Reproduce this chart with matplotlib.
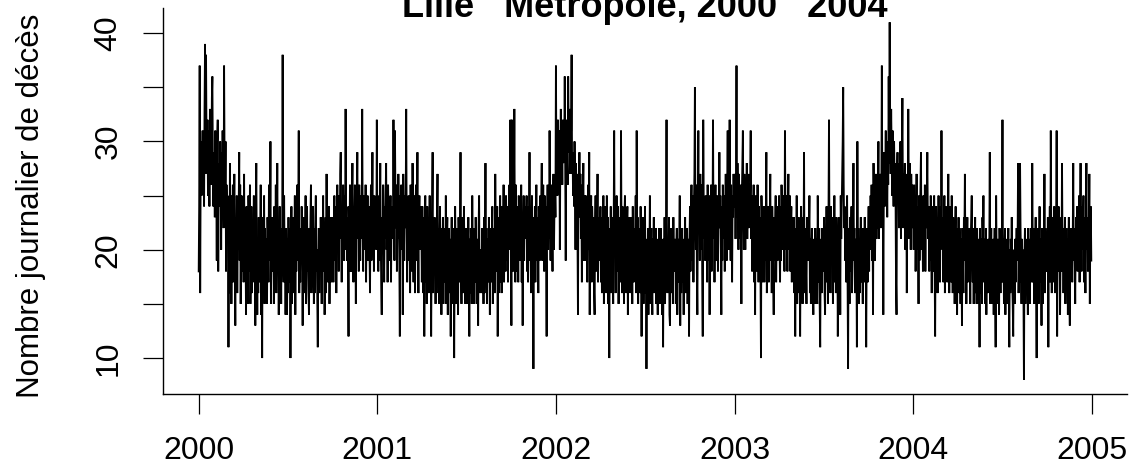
import numpy as np
import pandas as pd
import matplotlib
matplotlib.use("Agg")
import matplotlib.pyplot as plt

# Daily number of deaths, Lille Métropole
deaths_2000 = [
    18,24,37,16,27,30,25,28,31,26,29,24,33,39,27,38,30,28,32,25,29,31,24,33,27,30,26,34,36,28,24,
    26,29,23,31,25,27,19,30,32,18,26,28,24,30,27,20,29,25,31,26,22,37,28,24,30,18,26,23,25,
    24,11,22,16,28,21,25,15,23,20,26,17,22,27,19,13,23,21,25,16,22,20,24,29,19,26,15,21,25,18,22,
    21,17,27,18,23,20,14,24,19,22,15,25,21,18,26,15,20,24,16,22,17,21,25,18,20,13,23,28,19,14,
    20,16,23,17,22,19,26,14,21,10,23,18,20,25,15,22,19,21,16,15,23,20,17,26,19,22,30,15,21,18,23,
    19,22,15,24,20,18,26,16,21,28,19,22,14,20,24,18,21,15,22,19,38,20,17,25,19,21,14,22,18,14,
    21,16,23,17,20,22,10,19,24,15,21,16,23,20,19,25,14,22,18,21,26,19,23,31,16,20,17,22,19,24,20,
    13,20,23,16,22,19,25,15,21,24,18,20,16,14,22,19,23,26,16,21,17,24,20,15,22,16,23,25,18,20,15,
    11,19,22,16,21,18,23,20,15,22,19,25,18,21,14,20,23,16,27,19,22,17,20,24,15,21,19,23,17,20,
    20,23,17,22,25,19,21,24,16,22,26,20,23,18,25,21,27,29,22,17,24,20,26,23,19,25,20,33,22,24,19,
    23,19,12,24,21,26,18,23,18,25,28,22,17,24,21,26,20,15,23,25,29,21,24,18,26,22,19,25,23,21,
    33,22,18,25,21,24,20,26,17,23,21,25,19,22,24,20,16,23,26,19,24,29,20,23,18,25,22,21,24,20,32,
]
deaths_2001 = [
    22,25,18,24,19,23,28,21,17,14,23,20,26,22,17,24,21,25,28,20,23,17,26,22,24,19,21,25,17,23,22,
    24,21,32,23,19,31,25,22,26,18,24,21,27,23,19,12,25,22,26,20,24,14,27,23,19,25,22,24,
    33,22,17,24,21,25,19,23,16,26,22,24,18,28,21,17,25,22,16,23,26,19,24,29,21,16,23,25,20,22,24,
    22,17,24,20,16,23,12,21,25,17,22,15,24,20,23,16,21,25,19,22,12,20,24,29,16,22,19,23,20,15,
    21,16,23,27,19,22,15,20,24,18,21,14,22,19,23,15,20,18,22,17,25,15,21,23,14,20,22,16,21,19,12,
    20,23,16,21,15,22,10,19,24,20,15,22,19,21,14,23,20,17,22,29,19,15,23,20,21,16,24,19,22,15,
    21,17,22,15,20,23,19,12,21,16,22,20,15,25,19,21,15,22,20,17,23,19,15,21,20,13,22,25,16,20,19,
    20,16,22,19,21,15,23,16,20,28,19,22,15,21,20,17,23,19,14,22,20,17,21,24,15,20,22,19,16,27,21,
    22,18,24,12,21,16,23,20,25,17,22,16,24,21,19,26,17,23,21,18,25,22,19,24,17,23,20,26,20,32,
    23,13,32,21,25,18,24,33,22,17,26,21,24,18,23,17,25,22,19,24,21,26,17,23,13,22,25,19,24,21,23,
    22,25,18,23,17,24,21,29,19,23,16,22,25,18,21,9,23,19,24,17,22,26,19,23,21,16,24,22,19,25,
    21,24,28,19,23,26,22,18,25,21,24,19,12,23,26,20,25,21,31,24,19,26,23,22,18,25,27,20,24,26,23,
]
deaths_2002 = [
    37,27,30,25,32,28,26,31,20,29,33,27,30,26,32,28,31,29,36,27,19,30,32,28,26,36,31,29,33,27,30,
    31,38,27,29,25,28,24,30,26,20,28,25,27,22,14,26,24,29,23,27,21,25,17,26,24,28,19,25,
    23,19,25,21,24,17,22,26,20,29,14,23,21,25,17,24,22,19,23,16,14,22,25,18,24,21,27,17,23,22,19,
    21,24,17,22,16,23,20,25,15,22,19,24,21,16,25,20,23,15,21,10,22,18,24,16,21,23,19,15,22,31,
    20,23,16,22,25,18,21,24,15,22,19,23,17,31,21,16,24,20,22,15,23,25,18,21,16,22,24,14,20,23,17,
    21,16,23,19,22,15,24,20,17,22,18,21,25,16,31,20,23,15,21,18,22,16,24,20,12,21,18,23,15,20,
    19,24,16,21,9,20,17,22,14,21,19,25,15,20,22,17,14,21,19,23,16,20,17,22,15,19,21,14,20,17,22,
    20,15,22,18,21,14,19,11,21,17,23,15,20,22,32,19,16,21,17,23,14,13,20,22,16,19,21,15,23,18,20,
    18,21,15,20,22,14,19,21,17,20,25,13,21,16,19,22,17,20,14,21,19,23,16,20,17,22,15,19,21,12,
    21,24,18,23,26,19,22,25,17,24,27,35,23,20,26,18,14,24,31,22,25,19,27,23,20,26,18,12,32,24,21,
    23,19,25,21,24,17,26,22,19,25,14,23,20,26,18,24,22,32,21,25,17,23,26,19,24,21,25,18,23,22,
    29,22,25,20,14,24,19,26,23,21,25,18,24,27,22,19,26,31,23,20,25,32,24,19,26,22,17,25,23,27,24,
]
deaths_2003 = [
    24,27,21,26,37,23,28,25,20,27,24,21,26,23,15,25,28,31,24,20,27,25,20,26,24,28,21,25,27,22,26,
    23,26,31,21,25,18,24,21,26,17,23,14,25,20,24,18,26,22,17,24,20,23,18,10,25,22,17,24,
    21,24,17,22,19,23,29,16,22,20,24,17,21,23,27,19,22,16,24,21,18,14,23,19,22,25,17,21,23,19,24,
    22,25,20,17,24,19,26,23,20,25,22,24,18,31,23,20,25,22,18,24,27,20,23,25,18,22,24,17,23,21,
    20,23,16,21,12,22,18,25,15,21,20,23,16,22,12,20,24,18,21,15,23,20,29,16,21,22,18,15,23,20,21,
    19,22,25,16,21,15,20,22,18,17,14,21,20,15,22,19,21,16,15,25,20,17,22,15,11,20,21,16,22,19,
    21,18,23,16,14,22,20,24,17,21,15,23,32,20,22,16,24,19,21,23,15,22,19,25,17,21,16,23,20,22,12,
    20,23,17,22,14,25,21,24,27,30,35,26,22,24,19,23,17,21,25,16,9,22,19,15,23,18,21,24,16,20,22,
    28,19,22,16,21,17,20,11,30,18,22,15,21,16,20,23,17,21,19,15,22,20,17,23,18,21,11,20,22,17,
    21,24,18,23,20,25,21,26,19,23,14,28,22,25,19,24,27,21,26,22,25,30,21,26,24,27,22,25,37,24,26,
    14,26,29,24,27,31,25,28,23,30,26,36,28,41,30,27,33,29,25,31,27,24,30,26,28,25,17,14,27,29,
    25,28,22,27,24,30,21,26,29,34,25,22,27,24,28,20,26,25,16,27,23,33,26,21,28,25,20,27,24,26,22,
]
deaths_2004 = [
    24,20,26,22,25,18,23,27,20,24,22,15,25,19,23,26,29,20,24,22,18,25,23,20,26,18,24,22,25,29,23,
    21,24,18,23,19,25,22,16,24,21,23,18,25,19,12,22,24,19,23,16,21,25,19,22,17,24,21,31,22,
    20,23,17,22,25,16,21,24,19,22,17,23,27,21,16,24,20,22,17,25,21,16,23,20,22,15,21,24,18,22,14,
    21,18,23,16,22,20,15,21,19,13,22,19,16,23,21,27,19,22,15,20,23,17,21,18,22,20,15,21,23,25,
    20,17,22,15,21,19,23,16,20,15,22,19,21,15,20,11,22,18,16,21,15,23,20,25,17,21,19,15,22,14,20,
    19,16,21,17,20,29,15,19,22,15,20,17,21,14,19,22,16,11,25,19,15,21,17,20,14,22,19,16,21,17,
    20,32,17,21,15,19,22,14,20,18,21,15,19,22,17,11,20,16,21,19,23,17,15,12,20,19,15,21,17,20,22,
    19,21,28,16,20,17,28,22,19,15,21,17,20,16,8,19,22,15,20,17,21,19,14,22,17,20,15,21,19,22,17,
    28,20,17,22,15,21,19,23,16,10,21,18,22,15,20,24,17,21,19,13,22,19,15,21,18,27,16,22,20,18,
    21,18,23,11,22,20,24,17,31,21,16,23,20,22,17,24,21,16,23,20,31,12,22,18,24,21,23,14,20,22,18,
    28,20,22,16,21,19,23,15,20,22,18,21,14,20,23,16,13,21,19,22,20,17,21,28,19,22,20,15,21,23,
    21,24,18,22,20,25,17,23,28,21,18,24,20,22,25,17,23,21,16,24,28,20,22,18,23,21,27,15,22,24,19,
]

x_ticks = [2000, 2001, 2002, 2003, 2004, 2005]
x_tick_labels = ["2000", "2001", "2002", "2003", "2004", "2005"]
y_ticks = [10, 15, 20, 25, 30, 35, 40]
y_tick_labels = ["10", "", "20", "", "30", "", "40"]
title = "Lille   Métropole, 2000   2004"
ylabel = "Nombre journalier de décès"

deaths = np.array(deaths_2000 + deaths_2001 + deaths_2002 + deaths_2003 + deaths_2004)
dates = pd.date_range("2000-01-01", periods=len(deaths), freq="D")
days_in_year = np.where(dates.is_leap_year, 366, 365)
t = dates.year + (dates.dayofyear - 1) / days_in_year

plt.rcParams["font.family"] = ["Liberation Sans", "DejaVu Sans"]

W, H = 1138, 468
fig = plt.figure(figsize=(W / 100, H / 100), dpi=100)
ax = fig.add_axes([163 / W, 1 - 394 / H, (1127 - 163) / W, (394 - 8) / H])

ax.plot(t, deaths, color="black", linewidth=1.35, solid_joinstyle="miter")
ax.margins(x=0.04, y=0.04)

for s in ("top", "right"):
    ax.spines[s].set_visible(False)
for s in ("left", "bottom"):
    ax.spines[s].set_linewidth(1.0)

ax.set_xticks(x_ticks)
ax.set_xticklabels(x_tick_labels)
ax.set_yticks(y_ticks)
ax.set_yticklabels(y_tick_labels, rotation=90, va="center")
ax.tick_params(axis="both", direction="out", length=14.4, width=0.9, labelsize=23)
ax.tick_params(axis="x", pad=16)
ax.tick_params(axis="y", pad=14)

fig.text(31 / W, 1 - 206 / H, ylabel, rotation=90, ha="center", va="center", fontsize=22.5)
fig.text(645 / W, 1 - 17 / H, title, ha="center", va="baseline", fontsize=26, fontweight="bold")

fig.savefig("out.png", dpi=100)
